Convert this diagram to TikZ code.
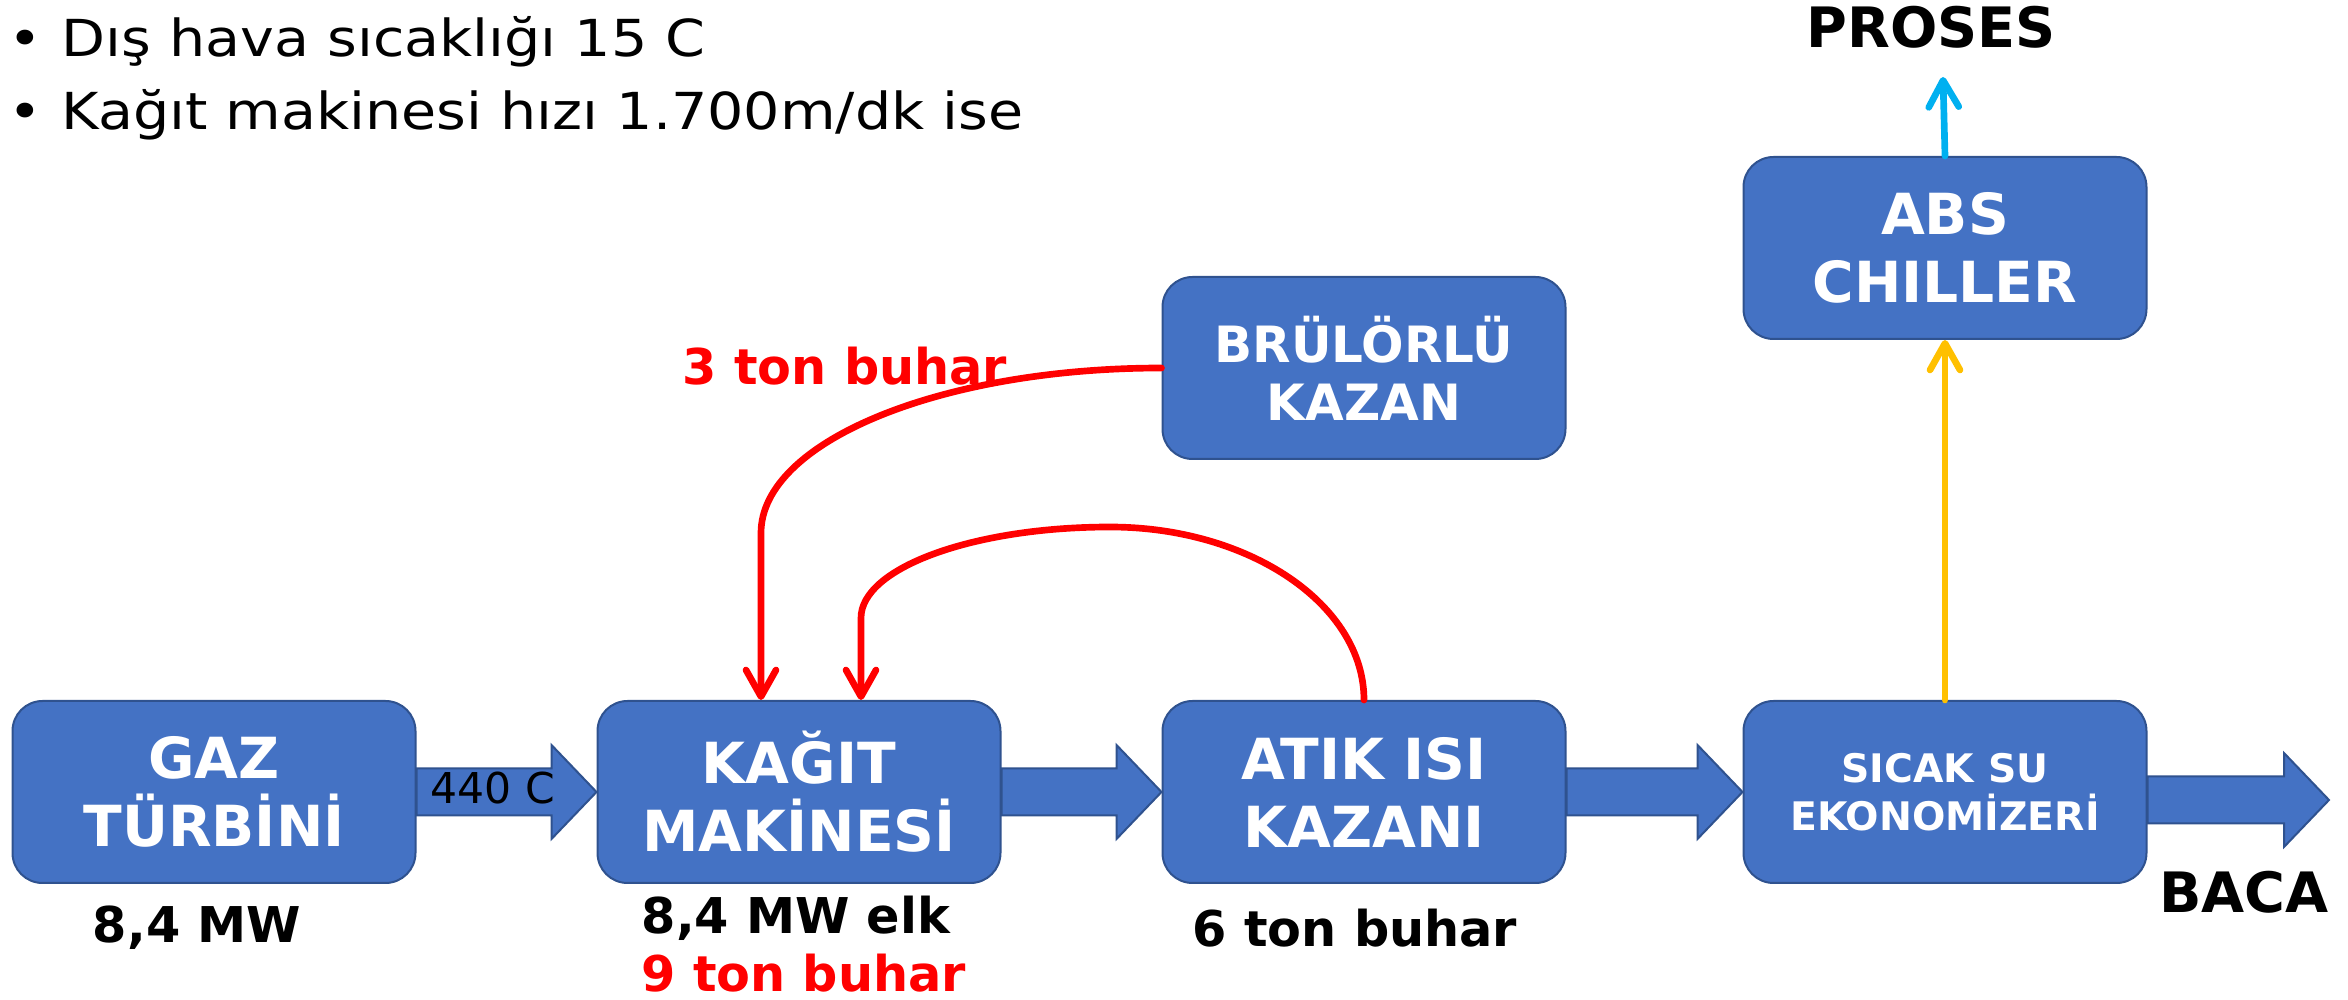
\documentclass[tikz,border=0pt]{standalone}
\usepackage{xcolor}
\usepackage{fontspec}
\setmainfont{DejaVu Sans}
\newfontfamily\bulletfont[FakeStretch=1.12]{DejaVu Sans}
\usepackage{tikz}
\usetikzlibrary{arrows.meta,calc}

\definecolor{boxblue}{RGB}{68,114,196}
\definecolor{boxedge}{RGB}{47,82,143}
\definecolor{steamred}{RGB}{255,0,0}
\definecolor{heatorange}{RGB}{255,192,0}
\definecolor{coolblue}{RGB}{0,176,240}

% block arrow from one anchor to the next
\newcommand{\flowarrow}[2]{%
\draw [flow] ($(#1 |- #2)+(0,-23.5)$) -- ($(#2)+(-45,-23.5)$) -- ($(#2)+(-45,-47)$) -- (#2) -- ($(#2)+(-45,47)$) -- ($(#2)+(-45,23.5)$) -- ($(#1 |- #2)+(0,23.5)$) -- cycle ;}

\begin{document}
\begin{tikzpicture}[x=0.3pt,y=0.3pt,yscale=-1,xscale=1,
  unit/.style={draw=boxedge,fill=boxblue,line width=0.6pt,rounded corners=9pt,minimum width=120.9pt,minimum height=54.6pt,inner sep=0pt,align=center,text=white,font=\bfseries\fontsize{17}{20.4}\selectfont},
  flow/.style={draw=boxedge,fill=boxblue,line width=0.6pt},
  pipe/.style={line width=2pt,line cap=round,-{Straight Barb[round,length=8pt,width=9pt]}},
  lab/.style={inner sep=0pt,font=\bfseries\fontsize{14.8}{17}\selectfont},
  big/.style={inner sep=0pt,font=\bfseries\fontsize{16.7}{20}\selectfont},
  bul/.style={anchor=base west,inner sep=0pt,font=\bulletfont\fontsize{15.3}{18}\selectfont}]
\useasboundingbox (0,0) rectangle (2348,1000);

% Bullet Text
\node (b1) at (8,57) [bul] {•};
\node (t1) at (61,57) [bul] {Dış hava sıcaklığı 15 C};
\node (b2) at (8,130) [bul] {•};
\node (t2) at (61,130) [bul] {Kağıt makinesi hızı 1.700m/dk ise};

% Rounded Rect
\node (gaz) at (214,792) [unit] {GAZ\\TÜRBİNİ};
\node (kagit) at (799,792) [unit] {KAĞIT\\MAKİNESİ};
\node (atik) at (1364,792) [unit] {ATIK ISI\\KAZANI};
\node (eko) at (1945,792) [unit,font=\bfseries\fontsize{11.8}{14.4}\selectfont] {SICAK SU\\EKONOMİZERİ};
\node (bru) at (1364,368) [unit,font=\bfseries\fontsize{15}{17.4}\selectfont] {BRÜLÖRLÜ\\KAZAN};
\node (abs) at (1945,248) [unit] {ABS\\CHILLER};

% Block Arrows
\coordinate (baca) at (2329,800);
\flowarrow{gaz.east}{kagit.west}
\flowarrow{kagit.east}{atik.west}
\flowarrow{atik.east}{eko.west}
\flowarrow{eko.east}{baca}

% Text Node
\node (t440) at (430,804) [anchor=base west,inner sep=0pt,font=\fontsize{12.75}{15}\selectfont] {440 C};

% Steam lines
\coordinate (k1) at (761,533);
\coordinate (k2) at (861,618);
\draw [pipe,steamred] (bru.west) .. controls (940,368) and (761,442) .. (k1) -- (k1 |- kagit.north);
\draw [pipe,steamred] (atik.north) .. controls (1364,605) and (1250,527) .. (1110,527) .. controls (973,527) and (861,568) .. (k2) -- (k2 |- kagit.north);

% Chiller lines
\coordinate (proses) at (1943,77);
\draw [pipe,heatorange] (eko.north) -- (abs.south);
\draw [pipe,coolblue] (abs.north) -- (proses);

% Text Node
\node (lproses) at (1931,48) [anchor=base,big] {PROSES};
\node (lbaca) at (2244,913) [anchor=base,big] {BACA};
\node (l3ton) at (845,385) [anchor=base,lab,text=steamred] {3 ton buhar};
\node (lgaz) at (197,942) [anchor=base,lab] {8,4 MW};
\node (lelk) at (641,933) [anchor=base west,lab] {8,4 MW elk};
\node (l9ton) at (641,992) [anchor=base west,lab,text=steamred] {9 ton buhar};
\node (l6ton) at (1355,947) [anchor=base,lab] {6 ton buhar};

\end{tikzpicture}
\end{document}
